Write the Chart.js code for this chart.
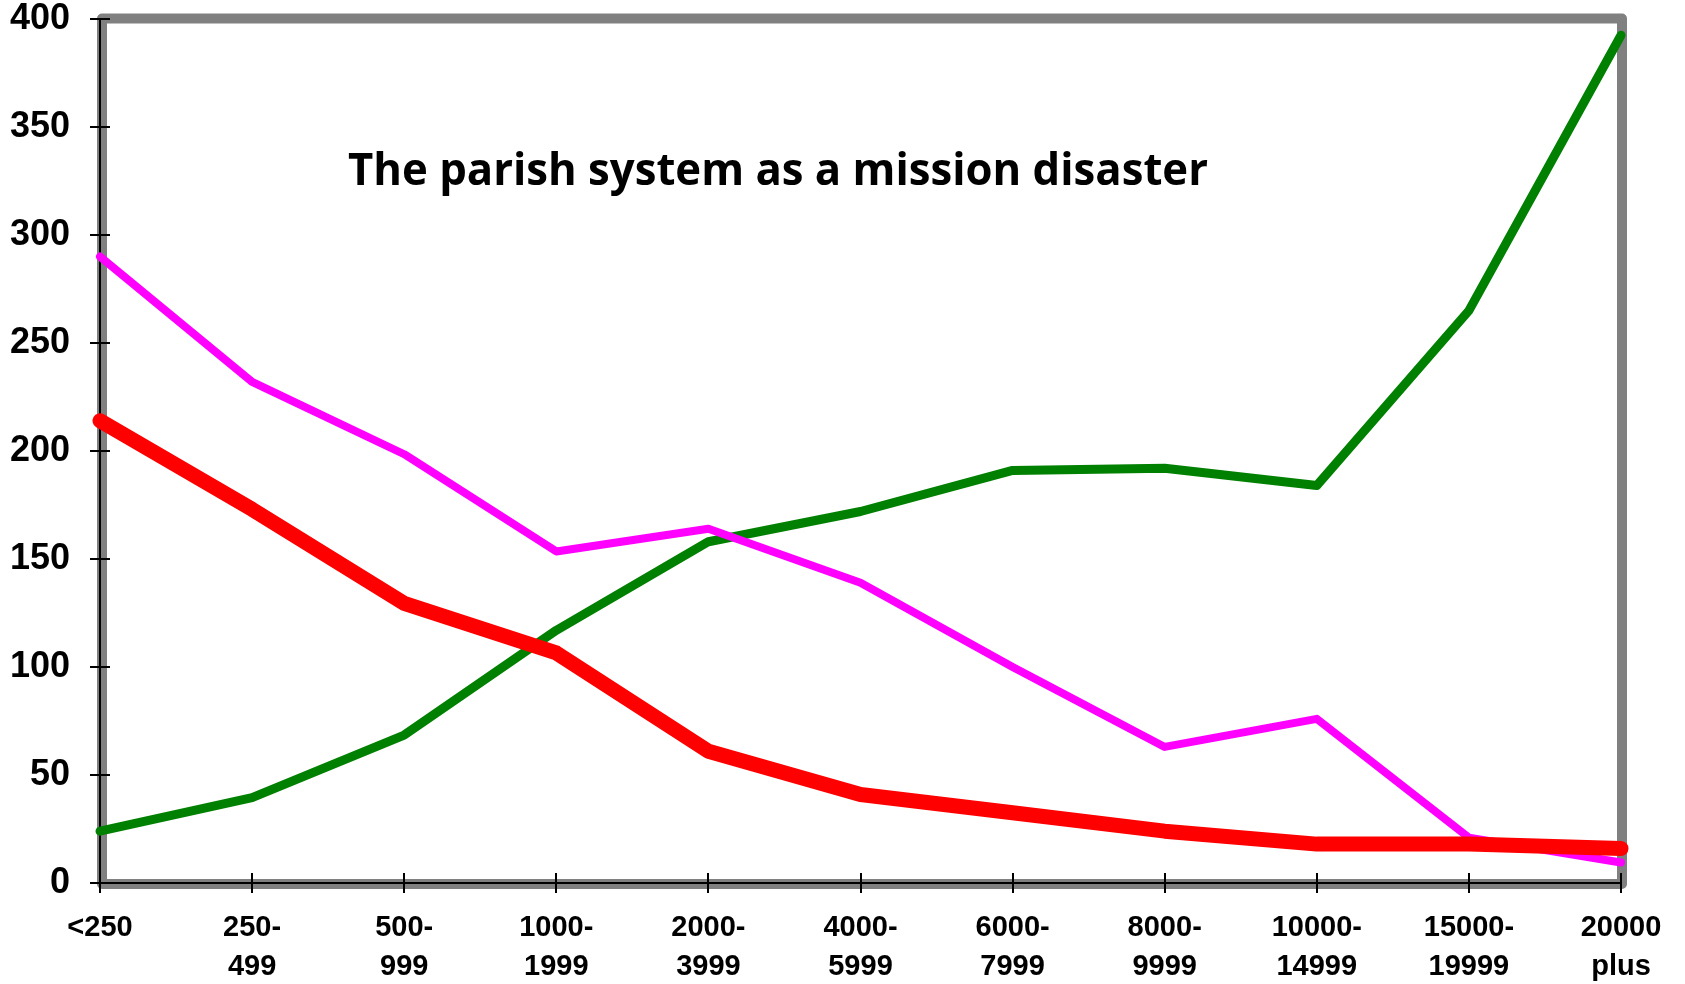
<!DOCTYPE html>
<html>
<head>
<meta charset="utf-8">
<script src="https://cdn.jsdelivr.net/npm/chart.js@4/dist/chart.umd.min.js"></script>
<style>
  html, body { margin: 0; padding: 0; background: #fff; }
  #wrap { position: relative; width: 1685px; height: 984px; }
</style>
</head>
<body>
<div id="wrap"><canvas id="c" width="1685" height="984"></canvas></div>
<script>
const categories = [['<250'], ['250-', '499'], ['500-', '999'], ['1000-', '1999'], ['2000-', '3999'],
  ['4000-', '5999'], ['6000-', '7999'], ['8000-', '9999'], ['10000-', '14999'], ['15000-', '19999'], ['20000', 'plus']];
const redSeries = [214, 173, 129.5, 106.5, 61, 41, 32.5, 24, 18, 18, 16];
const magentaSeries = [290, 232, 198.5, 153.5, 164, 139, 100, 63, 76, 21, 9.5];
const greenSeries = [24, 39.5, 68.5, 117, 158, 172, 191, 192, 184, 265, 392.5];
const yTicks = [0, 50, 100, 150, 200, 250, 300, 350, 400];
const titleText = 'The parish system as a mission disaster';

const framePlugin = {
  id: 'frame',
  beforeDraw(chart) {
    const ctx = chart.ctx, a = chart.chartArea;
    ctx.save();
    ctx.strokeStyle = '#808080';
    ctx.lineWidth = 10;
    ctx.lineJoin = 'round';
    ctx.strokeRect(a.left + 2, a.top - 0.5, (a.right + 1) - (a.left + 2), (a.bottom + 1) - (a.top - 0.5));
    ctx.restore();
  },
  beforeDatasetsDraw(chart) {
    const ctx = chart.ctx, a = chart.chartArea;
    const xs = chart.scales.x, ys = chart.scales.y;
    ctx.save();
    ctx.strokeStyle = '#000';
    ctx.lineWidth = 2;
    ctx.beginPath();
    ys.ticks.forEach((t, i) => {
      const y = Math.round(ys.getPixelForTick(i));
      ctx.moveTo(a.left, y); ctx.lineTo(a.left + 10, y);
    });
    xs.ticks.forEach((t, i) => {
      const x = Math.round(xs.getPixelForTick(i));
      ctx.moveTo(x, a.bottom); ctx.lineTo(x, a.bottom - 10);
    });
    ctx.stroke();
    ctx.fillStyle = '#000';
    ctx.font = 'bold 45px "Open Sans"';
    ctx.textAlign = 'center';
    ctx.textBaseline = 'middle';
    ctx.fillText(titleText, 778, 172, 860);
    ctx.restore();
  }
};

const common = { pointRadius: 0, pointHoverRadius: 0, fill: false, tension: 0,
  borderCapStyle: 'round', borderJoinStyle: 'round', clip: false };

new Chart(document.getElementById('c'), {
  type: 'line',
  data: {
    labels: categories,
    datasets: [
      Object.assign({ label: 'red', data: redSeries, borderColor: '#FF0000', borderWidth: 15 }, common),
      Object.assign({ label: 'magenta', data: magentaSeries, borderColor: '#FF00FF', borderWidth: 8 }, common),
      Object.assign({ label: 'green', data: greenSeries, borderColor: '#008000', borderWidth: 9 }, common)
    ]
  },
  options: {
    responsive: false,
    animation: false,
    devicePixelRatio: 1,
    layout: { padding: { top: 19, right: 64, left: 0, bottom: 0 } },
    plugins: { legend: { display: false }, tooltip: { enabled: false }, title: { display: false } },
    scales: {
      x: {
        offset: false,
        grid: { display: true, drawOnChartArea: false, drawTicks: true, tickLength: 10, color: '#000', lineWidth: 2 },
        border: { display: true, color: '#000', width: 2 },
        ticks: { color: '#000', padding: 16, maxRotation: 0, autoSkip: false,
          font: { family: '"Liberation Sans", Arial', size: 29, weight: 'bold', lineHeight: 1.34 } },
        afterFit(s) { s.height = 101; s.paddingLeft = 0; s.paddingRight = 0; }
      },
      y: {
        min: 0, max: 400,
        afterBuildTicks(s) { s.ticks = yTicks.map(v => ({ value: v })); },
        grid: { display: true, drawOnChartArea: false, drawTicks: true, tickLength: 10, color: '#000', lineWidth: 2 },
        border: { display: true, color: '#000', width: 2 },
        ticks: { color: '#000', padding: 20,
          font: { family: '"Liberation Sans", Arial', size: 36, weight: 'bold' } },
        afterFit(s) { s.width = 100; s.paddingTop = 0; s.paddingBottom = 0; }
      }
    }
  },
  plugins: [framePlugin]
});
</script>
</body>
</html>
